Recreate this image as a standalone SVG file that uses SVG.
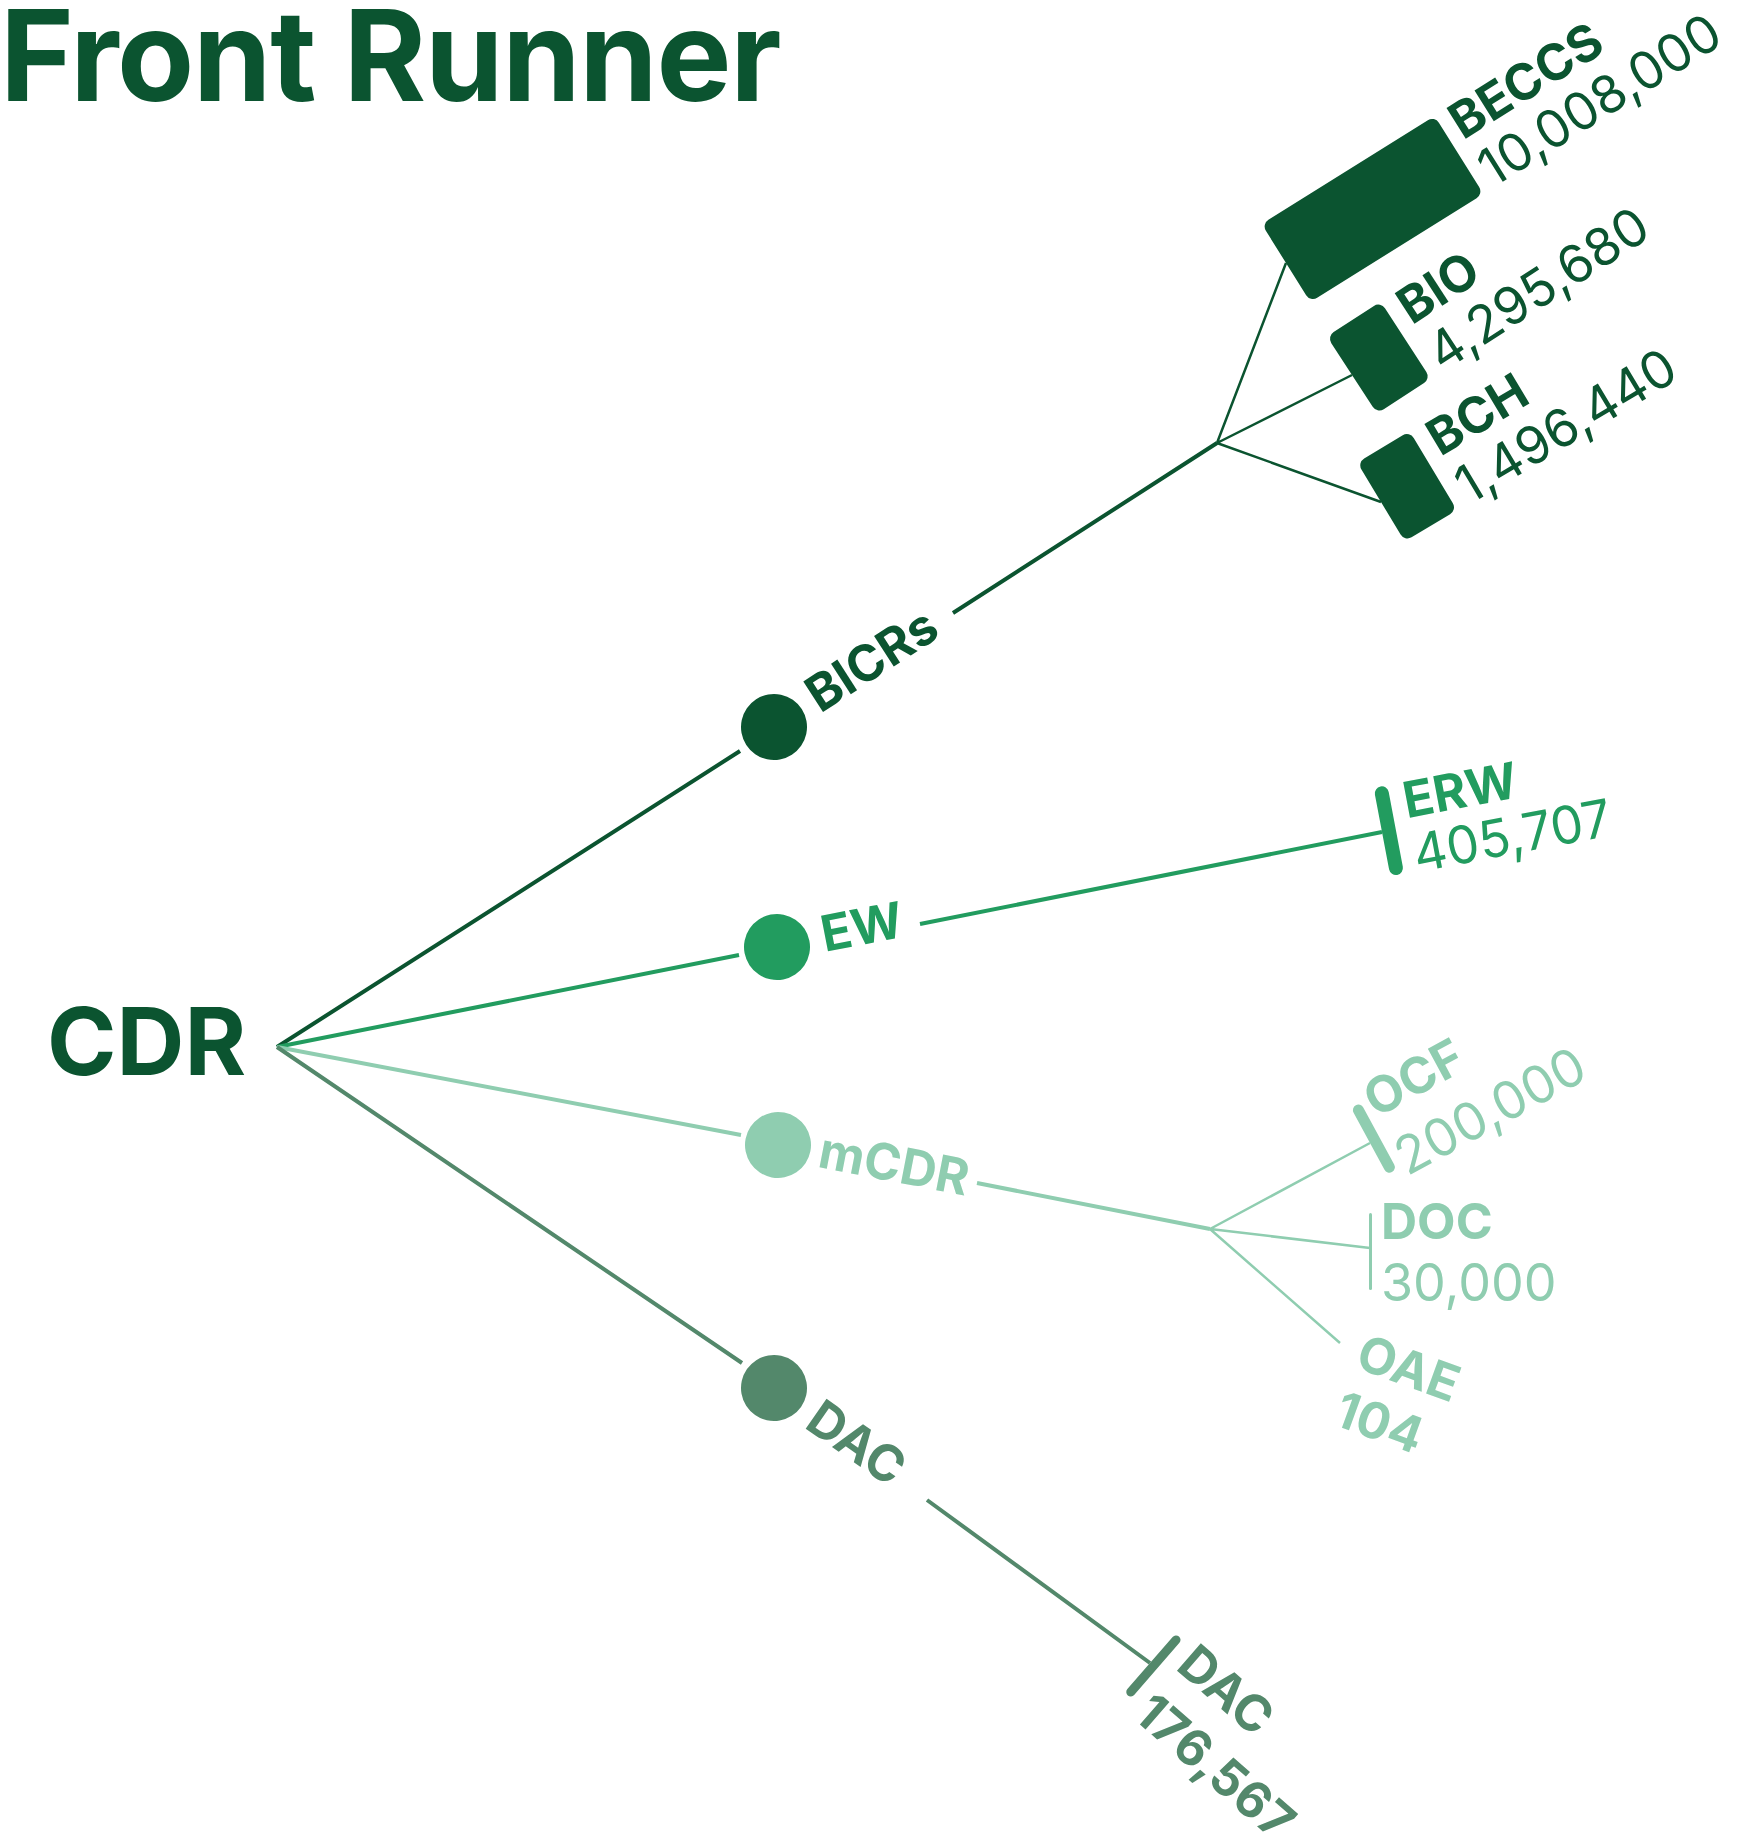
<svg xmlns="http://www.w3.org/2000/svg" width="1742" height="1838" viewBox="0 0 1742 1838">
<style>
.t{font-family:Inter,"Noto Sans","Liberation Sans",sans-serif}
.b{font-weight:700}
.r{font-weight:400;font-size:52px}
.lbl{font-size:50px}
.dk{fill:#0b5430}.ew{fill:#229c5f}.mc{fill:#8fcdb0}.da{fill:#53886b}
.sdk{stroke:#0b5430}.sew{stroke:#229c5f}.smc{stroke:#8fcdb0}.sda{stroke:#53886b}
.main{stroke-width:4;fill:none}
.sub{stroke-width:2.5;fill:none}
</style>
<rect width="1742" height="1838" fill="#ffffff"/>
<text id="title" class="t b dk" x="0" y="101" font-size="126" letter-spacing="-1.3">Front Runner</text>

<g id="connectors">
  <path class="main sdk" d="M277,1047 L740,751 M953,613 L1217,443"/>
  <path class="sub sdk" d="M1217,443 L1286,263 M1217,443 L1352,375 M1217,443 L1381,502"/>
  <path class="main sew" d="M277,1047 L739,955 M920,924 L1382,832"/>
  <path class="main smc" d="M277,1047 L741,1135 M977,1183 L1210,1229"/>
  <path class="sub smc" d="M1210,1229 L1370,1143 M1210,1229 L1370,1248 M1210,1229 L1340,1343"/>
  <path class="main sda" d="M277,1047 L742,1363 M927,1500 L1150,1663"/>
</g>

<g id="CDR">
  <text class="t b dk" x="47" y="1075" font-size="94">CDR</text>
</g>

<g id="BICRs" transform="translate(774,727) rotate(-32.8)">
  <circle class="dk" cx="0" cy="0" r="33"/>
  <text class="t b dk lbl" x="46" y="14">BICRs</text>
</g>
<g id="EW" transform="translate(777,947) rotate(-11)">
  <circle class="ew" cx="0" cy="0" r="33"/>
  <text class="t b ew lbl" x="46" y="14">EW</text>
</g>
<g id="mCDR" transform="translate(778,1145) rotate(11)">
  <circle class="mc" cx="0" cy="0" r="33"/>
  <text class="t b mc lbl" x="42" y="14">mCDR</text>
</g>
<g id="DAC" transform="translate(774,1388) rotate(35)">
  <circle class="da" cx="0" cy="0" r="33"/>
  <text class="t b da lbl" x="46" y="15">DAC</text>
</g>

<g id="BECCS" transform="translate(1286,263) rotate(-32)">
  <rect class="dk" x="0" y="-46" width="204" height="92" rx="8"/>
  <text class="t b dk lbl" x="215" y="-10">BECCS</text>
  <text class="t r dk" x="215" y="46">10,008,000</text>
</g>
<g id="BIO" transform="translate(1352,375) rotate(-33)">
  <rect class="dk" x="0" y="-46" width="64" height="92" rx="8"/>
  <text class="t b dk lbl" x="77" y="-9">BIO</text>
  <text class="t r dk" x="77" y="47">4,295,680</text>
</g>
<g id="BCH" transform="translate(1381,502) rotate(-31)">
  <rect class="dk" x="0" y="-46" width="61" height="92" rx="8"/>
  <text class="t b dk lbl" x="74" y="-8">BCH</text>
  <text class="t r dk" x="74" y="48">1,496,440</text>
</g>
<g id="ERW" transform="translate(1382,832) rotate(-10.7)">
  <rect class="ew" x="0" y="-45" width="14" height="90" rx="7"/>
  <text class="t b ew lbl" x="27" y="-9">ERW</text>
  <text class="t r ew" x="27" y="46">405,707</text>
</g>
<g id="OCF" transform="translate(1370,1143) rotate(-28.4)">
  <rect class="mc" x="0" y="-40" width="11" height="76" rx="5.5"/>
  <text class="t b mc lbl" x="17" y="-19">OCF</text>
  <text class="t r mc" x="17" y="47">200,000</text>
</g>
<g id="DOC" transform="translate(1370,1248)">
  <rect class="mc" x="-1" y="-35" width="3" height="77" rx="1.5"/>
  <text class="t b mc lbl" x="11" y="-9">DOC</text>
  <text class="t r mc" x="11" y="53">30,000</text>
</g>
<g id="OAE" transform="translate(1340,1343) rotate(20)">
  <text class="t b mc lbl" x="21" y="18">OAE</text>
  <text class="t b mc lbl" x="20" y="79">104</text>
</g>
<g id="DAC-leaf" transform="translate(1150,1663) rotate(41)">
  <rect class="da" x="0" y="-39" width="9" height="78" rx="4.5"/>
  <text class="t b da lbl" x="22" y="-12">DAC</text>
  <text class="t b da lbl" x="22" y="53">176,567</text>
</g>
</svg>
